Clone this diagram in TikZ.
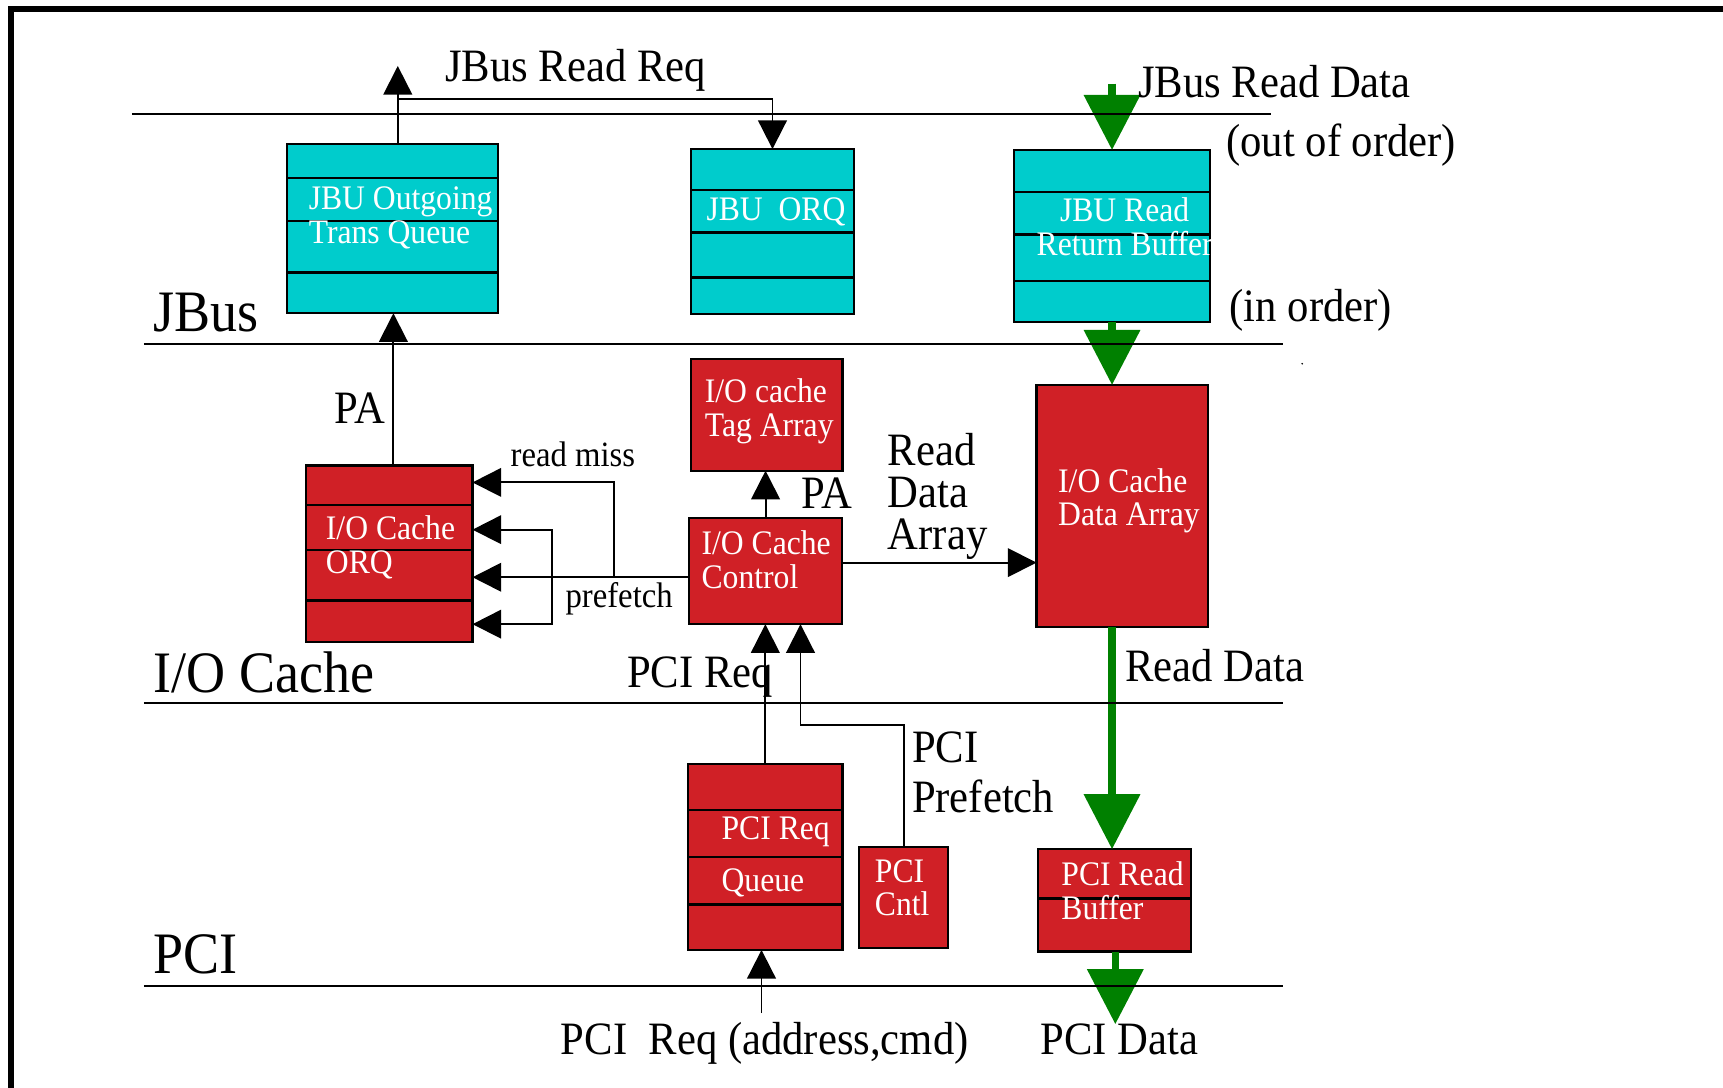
\documentclass[tikz,border=0pt]{standalone}
\usepackage{fontspec}
\setmainfont{Liberation Serif}[FakeStretch=0.92]
\usetikzlibrary{calc,arrows.meta}
\definecolor{jbcyan}{RGB}{0,204,204}
\definecolor{iored}{RGB}{208,32,38}
\definecolor{dgreen}{RGB}{0,128,0}

\begin{document}
\begin{tikzpicture}[x=0.01cm,y=-0.01cm,
  every node/.style={inner sep=0pt,outer sep=0pt},
  cyanbox/.style={draw=black,line width=0.6pt,fill=jbcyan},
  redbox/.style={draw=black,line width=0.6pt,fill=iored},
  rowline/.style={line width=0.6pt},
  boxtxt/.style={text=white,font=\fontsize{8.9}{8.65}\selectfont,align=left},
  lbl/.style={font=\fontsize{12}{11}\selectfont,align=left},
  smalllbl/.style={font=\fontsize{9.2}{10}\selectfont},
  region/.style={font=\fontsize{15.2}{16}\selectfont},
  bus/.style={line width=0.6pt},
  link/.style={line width=0.5pt,-{Triangle[length=0.26cm,width=0.26cm]}},
  gdata/.style={line width=1.85pt,dgreen,-{Triangle[length=0.5cm,width=0.5cm]}}]

\useasboundingbox (0,0) rectangle (1568,990);
\draw[line width=0.05cm] (10,990) -- (10,8) -- (1568,8);

% JBus queues
\node[cyanbox,minimum width=1.92cm,minimum height=1.54cm] (otq) at (357,208) {};
\node[cyanbox,minimum width=1.48cm,minimum height=1.50cm] (jorq) at (703,210.7) {};
\node[cyanbox,minimum width=1.784cm,minimum height=1.562cm] (rrb) at (1011.8,214.6) {};
\foreach \d in {31,70,117} \draw[rowline] ($(otq.north west)+(0,\d)$) -- ($(otq.north east)+(0,\d)$);
\foreach \d in {37,76,117} \draw[rowline] ($(jorq.north west)+(0,\d)$) -- ($(jorq.north east)+(0,\d)$);
\foreach \d in {38,77,119} \draw[rowline] ($(rrb.north west)+(0,\d)$) -- ($(rrb.north east)+(0,\d)$);

% I/O cache blocks
\node[redbox,minimum width=1.38cm,minimum height=1.016cm] (tag) at (697.7,377.5) {};
\node[redbox,minimum width=1.394cm,minimum height=0.964cm] (ctl) at (696.7,519.8) {};
\node[redbox,minimum width=1.516cm,minimum height=1.603cm] (iorq) at (354.2,503.8) {};
\node[redbox,minimum width=1.562cm,minimum height=2.199cm] (dat) at (1021.4,460.3) {};
\foreach \d in {36,77,123} \draw[rowline] ($(iorq.north west)+(0,\d)$) -- ($(iorq.north east)+(0,\d)$);

% PCI blocks
\node[redbox,minimum width=1.404cm,minimum height=1.692cm] (prq) at (696.5,779.8) {};
\node[redbox,minimum width=0.813cm,minimum height=0.919cm] (cntl) at (822.3,817) {};
\node[redbox,minimum width=1.389cm,minimum height=0.932cm] (prb) at (1014.3,819.4) {};
\foreach \d in {42,85,128} \draw[rowline] ($(prq.north west)+(0,\d)$) -- ($(prq.north east)+(0,\d)$);
\draw[rowline] ($(prb.north west)+(0,45)$) -- ($(prb.north east)+(0,45)$);

% box texts
\node[boxtxt,anchor=north west] (otqt) at (281,170) {JBU Outgoing\\Trans Queue};
\node[boxtxt,anchor=base west] (jorqt) at (643,201) {JBU~ ORQ};
\node[boxtxt,anchor=north,align=center] (rrbt) at (1023.5,180) {JBU Read\\Return Buffer};
\node[boxtxt,anchor=north west] (tagt) at (641.5,345) {I/O cache\\Tag Array};
\node[boxtxt,anchor=north west] (ctlt) at (638.5,483) {I/O Cache\\Control};
\node[boxtxt,anchor=north west] (iorqt) at (296.6,469.5) {I/O Cache\\ORQ};
\node[boxtxt,anchor=north west] (datt) at (963,426.5) {I/O Cache\\Data Array};
\node[boxtxt,anchor=base west] (prqt) at (656.7,764.3) {PCI Req};
\node[boxtxt,anchor=base west] (prqu) at (656.7,811.3) {Queue};
\node[boxtxt,anchor=north west] (cntlt) at (796.2,782) {PCI\\Cntl};
\node[boxtxt,anchor=north west] (prbt) at (966,784.5) {PCI Read\\Buffer};

% green data path
\coordinate (gx) at (1012,76);
\coordinate (pdx) at (1015,932);
\draw[gdata] (gx) -- (gx |- rrb.north);
\draw[gdata] (rrb.south -| gx) -- (dat.north -| gx);
\draw[gdata] (dat.south -| gx) -- (prb.north -| gx);
\draw[gdata] (prb.south -| pdx) -- (pdx);

% bus lines
\draw[bus] (120,104) -- (1157,104);
\draw[bus] (131,313) -- (1168,313);
\draw[bus] (131,640) -- (1168,640);
\draw[bus] (131,897) -- (1168,897);
\fill (1185,331) circle (0.8);

% request paths
\coordinate (rqx) at (362,60);
\coordinate (rqy) at (0,90.4);
\draw[link] (otq.north -| rqx) -- (rqx);
\draw[link] (rqx |- rqy) -| (jorq.north);
\coordinate (pax) at (358,0);
\draw[link] (iorq.north -| pax) -- (otq.south -| pax);
\coordinate (cy) at (0,525.3);
\coordinate (rmx) at (559,439);
\coordinate (pfa) at (502.5,482);
\coordinate (pfb) at (502.5,568);
\draw[link] (ctl.west |- cy) -- (iorq.east |- cy);
\draw[link] (rmx |- cy) -- (rmx) -- (iorq.east |- rmx);
\draw[link,{Triangle[length=0.26cm,width=0.26cm]}-{Triangle[length=0.26cm,width=0.26cm]}] (iorq.east |- pfa) -- (pfa) -- (pfb) -- (iorq.east |- pfb);
\draw[link] (ctl.north) -- (ctl.north |- tag.south);
\coordinate (rdy) at (0,512);
\draw[link] (ctl.east |- rdy) -- (dat.west |- rdy);
\draw[link] (prq.north) -- (prq.north |- ctl.south);
\coordinate (pfy) at (728.5,660);
\draw[link] (cntl.north) |- (pfy) -- (pfy |- ctl.south);
\coordinate (pcin) at (693,922);
\draw[link] (pcin) -- (pcin |- prq.south);

% labels
\node[region,anchor=base west] (jbusl) at (140,302) {JBus};
\node[region,anchor=base west] (iocl) at (140,630) {I/O Cache};
\node[region,anchor=base west] (pcil) at (140,885.6) {PCI};
\node[lbl,anchor=base west] (jrrl) at (405,74) {JBus Read Req};
\node[lbl,anchor=base west] (jrdl) at (1035.7,88.9) {JBus Read Data};
\node[lbl,anchor=base west] (oool) at (1116,142) {(out of order)};
\node[lbl,anchor=base west] (inol) at (1119,292.7) {(in order)};
\node[lbl,anchor=base west] (pal) at (304.8,385) {PA};
\node[lbl,anchor=base west] (pa2l) at (729.5,463) {PA};
\node[smalllbl,anchor=base west] (rml) at (464.7,424.6) {read miss};
\node[smalllbl,anchor=base west] (pfl) at (514.7,553) {prefetch};
\node[lbl,anchor=north west,font=\fontsize{12}{10.8}\selectfont] (rdal) at (808,394.5) {Read\\Data\\Array};
\node[lbl,anchor=base west] (rdl) at (1024,620) {Read Data};
\node[lbl,anchor=base west] (prl) at (570.6,626) {PCI Req};
\node[lbl,anchor=north west,font=\fontsize{12}{12.9}\selectfont] (ppl) at (830,666) {PCI\\Prefetch};
\node[lbl,anchor=base west] (pral) at (510.5,960) {PCI~ Req (address,cmd)};
\node[lbl,anchor=base west] (pdl) at (947,960) {PCI Data};
\end{tikzpicture}
\end{document}
